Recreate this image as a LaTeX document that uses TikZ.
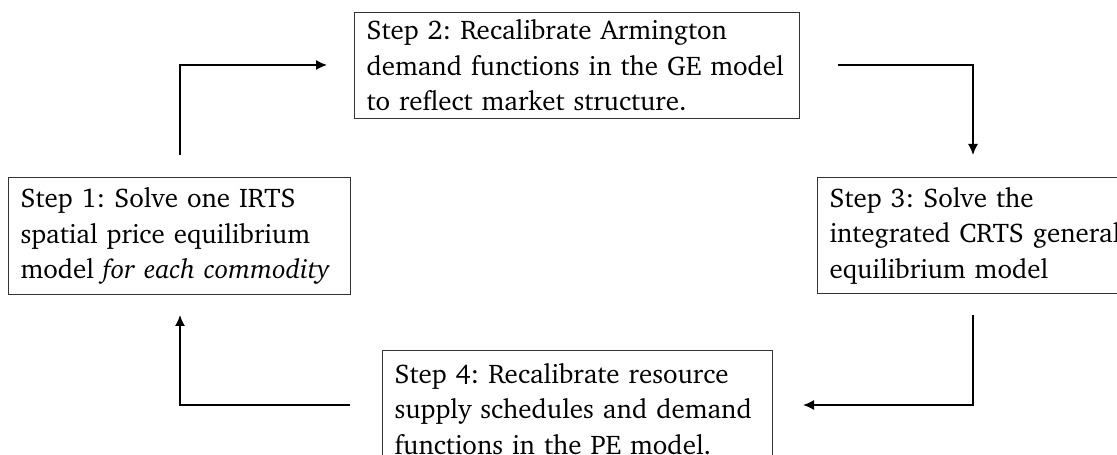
\documentclass[tikz,border=0pt]{standalone}
\usepackage[T1]{fontenc}
\renewcommand{\rmdefault}{bch}
\usetikzlibrary{arrows.meta}
\begin{document}
\frenchspacing
\begin{tikzpicture}[x=1pt,y=1pt,
  stepbox/.style={draw=black!80, line width=1pt, anchor=north west, align=left,
    inner xsep=12pt, inner ysep=0pt, font=\fontsize{27}{35.5}\selectfont},
  flow/.style={line width=1.5pt, -{Latex[length=11pt,width=10pt]}}]
\useasboundingbox (0,0) rectangle (1117,455);
\clip (0,0) rectangle (1117,455);
\node[stepbox, text width=318pt, minimum height=117pt] (s1) at (8,278)
  {Step 1: Solve one IRTS\\spatial price equilibrium\\model \textit{for each commodity}};
\node[stepbox, text width=421pt, minimum height=106pt] (s2) at (354,443)
  {Step 2: Recalibrate Armington\\demand functions in the GE model\\to reflect market structure.};
\node[stepbox, text width=330pt, minimum height=116pt] (s3) at (817,278)
  {Step 3: Solve the\\integrated CRTS general\\equilibrium model};
\node[stepbox, text width=366pt, minimum height=117pt] (s4) at (382,105)
  {Step 4: Recalibrate resource\\supply schedules and demand\\functions in the PE model.};
\coordinate (a1s) at (180,300); \coordinate (a1e) at (327,390);
\coordinate (a2s) at (838,390); \coordinate (a2e) at (973,300);
\coordinate (a3s) at (973,140); \coordinate (a3e) at (803,50);
\coordinate (a4s) at (350,50);  \coordinate (a4e) at (180,140);
\draw[flow] (a1s) |- (a1e);
\draw[flow] (a2s) -| (a2e);
\draw[flow] (a3s) |- (a3e);
\draw[flow] (a4s) -| (a4e);
\end{tikzpicture}
\end{document}
